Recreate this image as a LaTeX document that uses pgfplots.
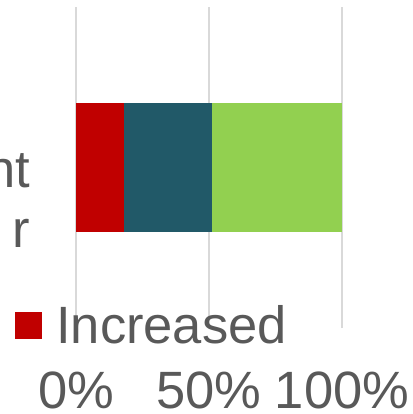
\documentclass[border=0pt]{standalone}
\usepackage{pgfplots}
\pgfplotsset{compat=1.18}
\usepackage{fontspec}
\setmainfont{Liberation Sans}
\definecolor{cRed}{HTML}{C00000}
\definecolor{cTeal}{HTML}{215968}
\definecolor{cGreen}{HTML}{92D050}
\definecolor{txt}{HTML}{595959}
\definecolor{grid}{HTML}{D9D9D9}
\begin{document}
\begin{tikzpicture}
\begin{axis}[
  scale only axis,
  width=266pt, height=321pt,
  xbar stacked,
  bar width=129pt,
  xmin=0, xmax=100,
  ymin=-1, ymax=1,
  enlarge x limits=false,
  enlarge y limits=false,
  axis line style={draw=none},
  major tick length=0pt,
  xtick={0,50,100},
  xticklabel={\pgfmathprintnumber{\tick}\%},
  /pgf/number format/assume math mode=true,
  xticklabel style={anchor=base, yshift=-80pt, inner sep=0pt},
  ytick={0},
  yticklabels={{nt\\r}},
  yticklabel style={align=right, anchor=east, inner sep=0pt, xshift=-46pt, yshift=-33pt},
  xmajorgrids,
  major grid style={color=grid, line width=1.8pt},
  ymajorgrids=false,
  tick label style={font=\fontsize{52.5}{60}\selectfont, text=txt},
  legend style={at={(rel axis cs:-0.229,0.008)}, anchor=west, draw=none, fill=none,
    font=\fontsize{52.5}{60}\selectfont, text=txt, inner sep=0pt, column sep=14pt,
    nodes={inner sep=0pt}},
  legend cell align=left,
  legend image code/.code={\fill[#1] (0pt,-13.5pt) rectangle (27pt,13.5pt);},
  legend entries={Increased},
]
\addplot[fill=cRed, draw=none] coordinates {(18,0)};
\addplot[fill=cTeal, draw=none] coordinates {(33,0)};
\addplot[fill=cGreen, draw=none] coordinates {(49,0)};
\coordinate (sw) at (rel axis cs:0,0);
\coordinate (ne) at (rel axis cs:1,1);
\end{axis}
\pgfresetboundingbox
\useasboundingbox ([xshift=-76pt,yshift=-86pt]sw) rectangle ([xshift=70pt,yshift=7pt]ne);
\end{tikzpicture}
\end{document}
